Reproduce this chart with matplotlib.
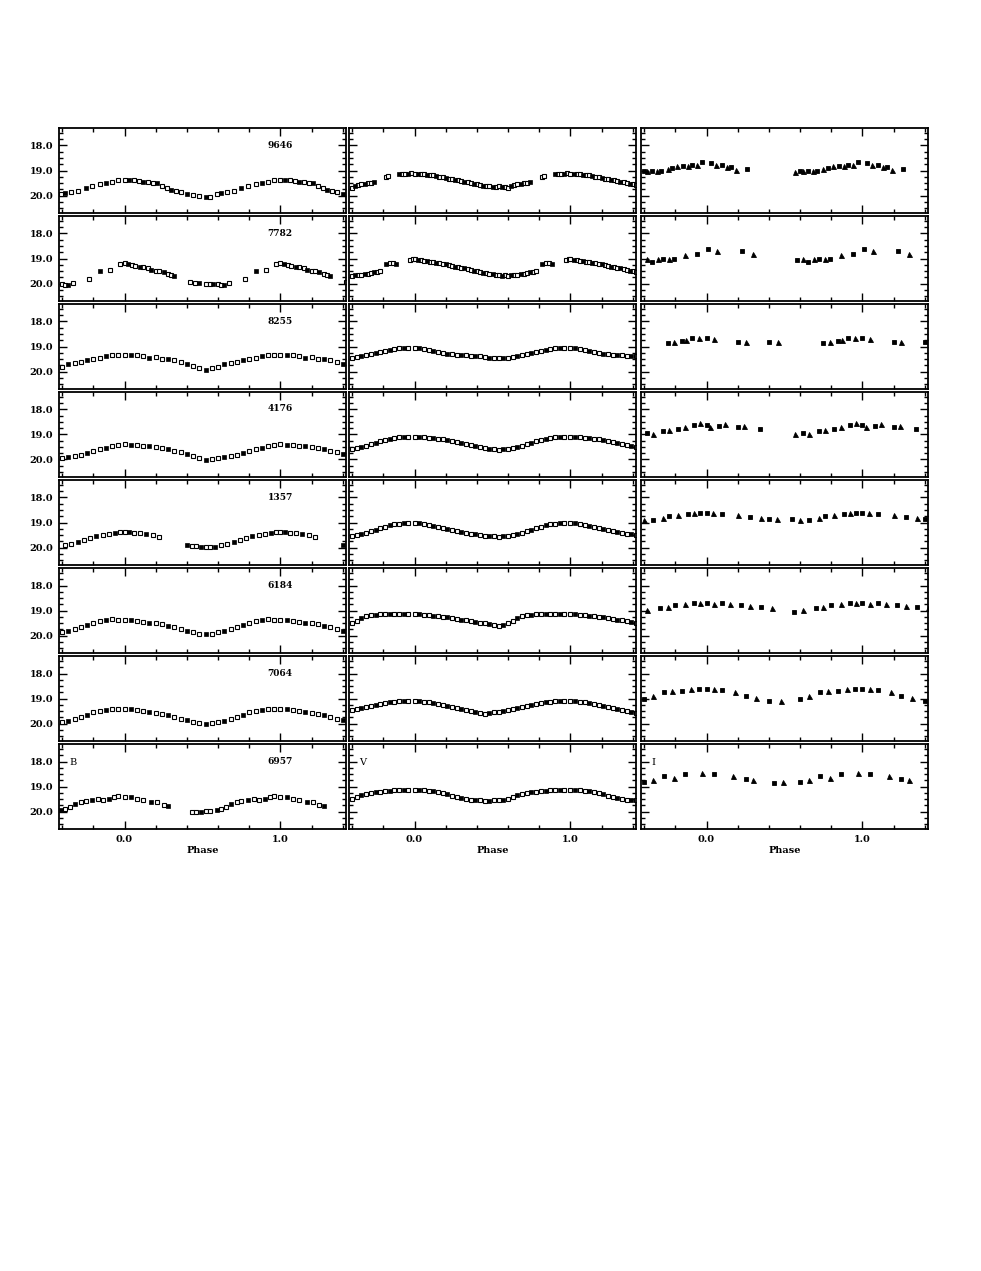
import numpy as np
import matplotlib
matplotlib.use('Agg')
import matplotlib.pyplot as plt
from matplotlib.ticker import MultipleLocator, FormatStrFormatter

# ---------------- data (phase in [0,1), magnitude) ----------------
stars = ['9646', '7782', '8255', '4176', '1357', '6184', '7064', '6957']

ph25 = [0.00, 0.04, 0.08, 0.12, 0.16, 0.20, 0.24, 0.28, 0.32, 0.36, 0.40, 0.44, 0.48,
        0.52, 0.56, 0.60, 0.64, 0.68, 0.72, 0.76, 0.80, 0.84, 0.88, 0.92, 0.96]
ph33 = [0.00, 0.03, 0.06, 0.09, 0.12, 0.15, 0.18, 0.21, 0.24, 0.27, 0.30, 0.33, 0.36,
        0.39, 0.42, 0.45, 0.48, 0.51, 0.54, 0.57, 0.60, 0.63, 0.66, 0.69, 0.72, 0.75,
        0.78, 0.81, 0.84, 0.87, 0.90, 0.93, 0.96]

# 9646
b9646_ph = [0.00, 0.03, 0.06, 0.09, 0.12, 0.15, 0.18, 0.21, 0.24, 0.27, 0.30, 0.33, 0.36, 0.40,
            0.44, 0.48, 0.52, 0.55, 0.59, 0.62, 0.66, 0.70, 0.75, 0.79, 0.84, 0.88, 0.92, 0.96]
b9646_mag = [19.37, 19.38, 19.40, 19.42, 19.45, 19.47, 19.50, 19.52, 19.62, 19.68, 19.76, 19.80, 19.86, 19.92,
             19.96, 20.02, 20.07, 20.05, 19.94, 19.90, 19.88, 19.80, 19.70, 19.60, 19.55, 19.48, 19.45, 19.38]
v9646_ph = [0.00, 0.02, 0.04, 0.06, 0.08, 0.10, 0.12, 0.14, 0.16, 0.18, 0.20, 0.22, 0.24, 0.26, 0.28,
            0.30, 0.32, 0.34, 0.36, 0.38, 0.40, 0.42, 0.44, 0.46, 0.48, 0.50, 0.52, 0.54, 0.56, 0.58,
            0.60, 0.62, 0.64, 0.66, 0.68, 0.70, 0.72, 0.74, 0.82, 0.83, 0.90, 0.92, 0.94, 0.96, 0.98]
v9646_mag = [19.12, 19.13, 19.14, 19.15, 19.17, 19.19, 19.20, 19.22, 19.25, 19.27, 19.30, 19.32, 19.34, 19.37, 19.40,
             19.42, 19.45, 19.47, 19.50, 19.53, 19.56, 19.58, 19.60, 19.61, 19.63, 19.64, 19.64, 19.63, 19.65, 19.66,
             19.68, 19.62, 19.58, 19.54, 19.56, 19.50, 19.48, 19.46, 19.26, 19.24, 19.14, 19.13, 19.12, 19.12, 19.11]
i9646_ph = [0.03, 0.06, 0.10, 0.13, 0.16, 0.19, 0.26, 0.57, 0.60, 0.62, 0.65, 0.68, 0.71, 0.75,
            0.78, 0.81, 0.85, 0.88, 0.91, 0.94, 0.97]
i9646_mag = [18.72, 18.76, 18.78, 18.88, 18.86, 18.96, 18.92, 19.08, 19.04, 19.02, 19.00, 19.02, 19.04, 18.92,
             18.90, 18.84, 18.82, 18.80, 18.78, 18.76, 18.68]

# 7782
b7782_ph = [0.00, 0.02, 0.05, 0.07, 0.10, 0.12, 0.15, 0.17, 0.20, 0.22, 0.25, 0.28, 0.30, 0.32,
            0.42, 0.45, 0.48, 0.52, 0.55, 0.57, 0.60, 0.62, 0.64, 0.67, 0.77, 0.84, 0.91, 0.97]
b7782_mag = [19.20, 19.24, 19.26, 19.30, 19.32, 19.36, 19.40, 19.44, 19.48, 19.52, 19.56, 19.60, 19.64, 19.70,
             19.92, 19.96, 19.98, 20.00, 20.02, 20.04, 20.00, 20.08, 20.06, 19.96, 19.80, 19.48, 19.44, 19.22]
v7782_ph = [0.00, 0.02, 0.04, 0.06, 0.08, 0.10, 0.12, 0.14, 0.16, 0.18, 0.20, 0.22, 0.24, 0.26, 0.28,
            0.30, 0.32, 0.34, 0.36, 0.38, 0.40, 0.42, 0.44, 0.46, 0.48, 0.50, 0.52, 0.54, 0.56, 0.58,
            0.60, 0.62, 0.64, 0.66, 0.68, 0.70, 0.72, 0.74, 0.76, 0.78, 0.82, 0.84, 0.86, 0.88, 0.97, 0.99]
v7782_mag = [19.04, 19.05, 19.07, 19.09, 19.11, 19.13, 19.15, 19.17, 19.20, 19.22, 19.24, 19.27, 19.30, 19.32, 19.35,
             19.38, 19.40, 19.43, 19.46, 19.49, 19.52, 19.55, 19.57, 19.59, 19.62, 19.63, 19.64, 19.66, 19.68, 19.66,
             19.68, 19.66, 19.64, 19.66, 19.62, 19.60, 19.58, 19.55, 19.54, 19.48, 19.22, 19.18, 19.20, 19.22, 19.06, 19.04]
i7782_ph = [0.01, 0.07, 0.23, 0.30, 0.58, 0.62, 0.65, 0.69, 0.72, 0.76, 0.79, 0.86, 0.94]
i7782_mag = [18.60, 18.72, 18.72, 18.84, 19.08, 19.04, 19.12, 19.02, 19.04, 19.00, 19.00, 18.88, 18.80]

# 8255
b8255_ph = ph25
b8255_mag = [19.32, 19.33, 19.36, 19.40, 19.45, 19.42, 19.48, 19.52, 19.56, 19.60, 19.70, 19.76, 19.85,
             19.92, 19.86, 19.82, 19.72, 19.65, 19.60, 19.55, 19.50, 19.45, 19.40, 19.36, 19.33]
v8255_ph = ph33
v8255_mag = [19.05, 19.07, 19.10, 19.14, 19.18, 19.22, 19.25, 19.28, 19.30, 19.32, 19.34, 19.36, 19.37,
             19.38, 19.40, 19.42, 19.44, 19.45, 19.46, 19.45, 19.44, 19.42, 19.40, 19.36, 19.30, 19.25,
             19.22, 19.18, 19.14, 19.10, 19.08, 19.06, 19.05]
i8255_ph = [0.00, 0.05, 0.20, 0.25, 0.40, 0.46, 0.75, 0.79, 0.84, 0.87, 0.91, 0.95]
i8255_mag = [18.68, 18.72, 18.80, 18.80, 18.82, 18.82, 18.88, 18.82, 18.78, 18.74, 18.66, 18.64]

# 4176
b4176_ph = ph25
b4176_mag = [19.40, 19.42, 19.44, 19.46, 19.48, 19.52, 19.56, 19.60, 19.66, 19.72, 19.80, 19.86, 19.96,
             20.02, 20.00, 19.94, 19.90, 19.86, 19.82, 19.74, 19.68, 19.60, 19.55, 19.48, 19.44]
v4176_ph = ph33
v4176_mag = [19.10, 19.10, 19.12, 19.14, 19.16, 19.18, 19.20, 19.23, 19.26, 19.30, 19.34, 19.38, 19.42,
             19.46, 19.50, 19.54, 19.57, 19.60, 19.62, 19.60, 19.58, 19.54, 19.50, 19.46, 19.40, 19.34,
             19.28, 19.22, 19.18, 19.14, 19.12, 19.10, 19.10]
i4176_ph = [0.00, 0.02, 0.08, 0.12, 0.20, 0.24, 0.34, 0.57, 0.62, 0.66, 0.72, 0.76, 0.82, 0.86, 0.92, 0.96]
i4176_mag = [18.62, 18.70, 18.68, 18.58, 18.72, 18.66, 18.78, 19.00, 18.95, 18.98, 18.88, 18.82, 18.78, 18.72, 18.64, 18.56]

# 1357
b1357_ph = [0.00, 0.03, 0.06, 0.10, 0.14, 0.18, 0.22, 0.40, 0.43, 0.46, 0.49, 0.52, 0.55, 0.58,
            0.62, 0.66, 0.70, 0.74, 0.78, 0.82, 0.86, 0.90, 0.94, 0.97]
b1357_mag = [19.36, 19.38, 19.40, 19.42, 19.46, 19.50, 19.56, 19.88, 19.92, 19.94, 19.96, 19.98, 19.98, 19.96,
             19.90, 19.86, 19.78, 19.70, 19.62, 19.55, 19.50, 19.45, 19.42, 19.38]
v1357_ph = ph33
v1357_mag = [19.02, 19.03, 19.05, 19.08, 19.12, 19.16, 19.20, 19.24, 19.28, 19.32, 19.36, 19.40, 19.44,
             19.47, 19.50, 19.52, 19.54, 19.55, 19.56, 19.55, 19.52, 19.48, 19.44, 19.40, 19.34, 19.28,
             19.22, 19.16, 19.10, 19.06, 19.04, 19.02, 19.01]
i1357_ph = [0.00, 0.04, 0.10, 0.20, 0.28, 0.35, 0.40, 0.45, 0.55, 0.60, 0.66, 0.72, 0.76, 0.82, 0.88, 0.92, 0.96]
i1357_mag = [18.60, 18.62, 18.65, 18.70, 18.78, 18.82, 18.84, 18.86, 18.86, 18.90, 18.90, 18.80, 18.72, 18.70,
             18.66, 18.62, 18.60]

# 6184
b6184_ph = ph25
b6184_mag = [19.38, 19.36, 19.40, 19.45, 19.48, 19.50, 19.55, 19.60, 19.66, 19.72, 19.80, 19.86, 19.92,
             19.95, 19.92, 19.86, 19.80, 19.72, 19.65, 19.56, 19.48, 19.42, 19.38, 19.35, 19.36]
v6184_ph = ph33
v6184_mag = [19.15, 19.15, 19.16, 19.18, 19.20, 19.22, 19.24, 19.27, 19.30, 19.33, 19.36, 19.39, 19.42,
             19.45, 19.48, 19.50, 19.54, 19.58, 19.60, 19.58, 19.50, 19.40, 19.30, 19.22, 19.18, 19.16,
             19.15, 19.15, 19.14, 19.14, 19.15, 19.15, 19.15]
i6184_ph = [0.00, 0.05, 0.10, 0.15, 0.22, 0.28, 0.35, 0.42, 0.56, 0.62, 0.70, 0.75, 0.80, 0.86, 0.92, 0.96]
i6184_mag = [18.70, 18.72, 18.70, 18.74, 18.76, 18.80, 18.86, 18.90, 19.05, 18.98, 18.90, 18.85, 18.78, 18.72,
             18.70, 18.68]

# 7064
b7064_ph = ph25
b7064_mag = [19.40, 19.42, 19.44, 19.48, 19.52, 19.56, 19.60, 19.66, 19.72, 19.80, 19.86, 19.92, 19.98,
             20.00, 19.98, 19.94, 19.88, 19.80, 19.72, 19.64, 19.55, 19.48, 19.44, 19.42, 19.40]
v7064_ph = ph33
v7064_mag = [19.10, 19.11, 19.13, 19.15, 19.18, 19.21, 19.25, 19.29, 19.33, 19.37, 19.42, 19.46, 19.50,
             19.54, 19.57, 19.60, 19.58, 19.55, 19.52, 19.48, 19.45, 19.40, 19.36, 19.32, 19.28, 19.24,
             19.20, 19.17, 19.14, 19.12, 19.11, 19.10, 19.10]
i7064_ph = [0.00, 0.05, 0.10, 0.18, 0.25, 0.32, 0.40, 0.48, 0.60, 0.66, 0.73, 0.78, 0.84, 0.90, 0.95]
i7064_mag = [18.60, 18.62, 18.65, 18.75, 18.90, 18.98, 19.10, 19.08, 19.00, 18.90, 18.72, 18.70, 18.68,
             18.62, 18.60]

# 6957
b6957_ph = [0.00, 0.04, 0.08, 0.12, 0.17, 0.21, 0.25, 0.28, 0.43, 0.46, 0.49, 0.52, 0.55, 0.59,
            0.62, 0.65, 0.68, 0.72, 0.75, 0.79, 0.83, 0.86, 0.90, 0.93, 0.96]
b6957_mag = [19.40, 19.40, 19.48, 19.52, 19.60, 19.62, 19.72, 19.76, 20.00, 20.02, 20.00, 19.98, 19.96, 19.92,
             19.88, 19.80, 19.68, 19.62, 19.56, 19.54, 19.48, 19.52, 19.50, 19.42, 19.36]
v6957_ph = ph33
v6957_mag = [19.12, 19.13, 19.14, 19.16, 19.18, 19.20, 19.24, 19.30, 19.36, 19.40, 19.44, 19.48, 19.52,
             19.54, 19.55, 19.56, 19.56, 19.55, 19.54, 19.52, 19.48, 19.40, 19.32, 19.28, 19.24, 19.21,
             19.20, 19.18, 19.16, 19.14, 19.13, 19.12, 19.12]
i6957_ph = [0.05, 0.17, 0.25, 0.30, 0.43, 0.49, 0.60, 0.66, 0.73, 0.79, 0.86, 0.97]
i6957_mag = [18.48, 18.56, 18.68, 18.72, 18.84, 18.80, 18.80, 18.72, 18.56, 18.64, 18.48, 18.44]

data = {
    '9646': [(b9646_ph, b9646_mag), (v9646_ph, v9646_mag), (i9646_ph, i9646_mag)],
    '7782': [(b7782_ph, b7782_mag), (v7782_ph, v7782_mag), (i7782_ph, i7782_mag)],
    '8255': [(b8255_ph, b8255_mag), (v8255_ph, v8255_mag), (i8255_ph, i8255_mag)],
    '4176': [(b4176_ph, b4176_mag), (v4176_ph, v4176_mag), (i4176_ph, i4176_mag)],
    '1357': [(b1357_ph, b1357_mag), (v1357_ph, v1357_mag), (i1357_ph, i1357_mag)],
    '6184': [(b6184_ph, b6184_mag), (v6184_ph, v6184_mag), (i6184_ph, i6184_mag)],
    '7064': [(b7064_ph, b7064_mag), (v7064_ph, v7064_mag), (i7064_ph, i7064_mag)],
    '6957': [(b6957_ph, b6957_mag), (v6957_ph, v6957_mag), (i6957_ph, i6957_mag)],
}
bands = ['B', 'V', 'I']

# ---------------- figure ----------------
W, H = 981, 1271
fig = plt.figure(figsize=(W / 100, H / 100), dpi=100)
plt.rcParams['font.family'] = ['DejaVu Serif']

lefts = [59, 349, 641]
aw, ah = 287, 85
tops = [128 + 88.0 * r for r in range(8)]
XMIN, XMAX = -0.42, 1.42


def folded(ax, ph, mag, band):
    ph = np.asarray(ph)
    mag = np.asarray(mag)
    for shift in (-1, 0, 1):
        x = ph + shift
        m = (x >= XMIN) & (x <= XMAX)
        idx = np.arange(len(x))
        if band == 'I':
            sel = m & (idx % 2 == 0)
            ax.plot(x[sel], mag[sel], 's', ms=3.4, color='k', mew=0.6)
            sel = m & (idx % 2 == 1)
            ax.plot(x[sel], mag[sel], '^', ms=3.6, color='k', mew=0.6)
        else:
            sel = m & (idx % 3 != 1)
            ax.plot(x[sel], mag[sel], 's', ms=3.4, mfc='white', mec='k', mew=0.8)
            sel = m & (idx % 3 == 1)
            ax.plot(x[sel], mag[sel], 's', ms=2.8, color='k', mew=0.5)


for r, star in enumerate(stars):
    for c in range(3):
        ax = fig.add_axes([lefts[c] / W, 1 - (tops[r] + ah) / H, aw / W, ah / H])
        ph, mag = data[star][c]
        folded(ax, ph, mag, bands[c])
        ax.set_xlim(XMIN, XMAX)
        ax.set_ylim(20.7, 17.3)
        ax.xaxis.set_major_locator(MultipleLocator(1.0))
        ax.xaxis.set_minor_locator(MultipleLocator(0.2))
        ax.yaxis.set_major_locator(MultipleLocator(1.0))
        ax.yaxis.set_minor_locator(MultipleLocator(0.25))
        ax.xaxis.set_major_formatter(FormatStrFormatter('%.1f'))
        ax.yaxis.set_major_formatter(FormatStrFormatter('%.1f'))
        ax.tick_params(which='both', direction='in', top=True, right=True, width=1.0,
                       labelsize=7, pad=4)
        ax.tick_params(which='major', length=6)
        ax.tick_params(which='minor', length=3)
        for lab in ax.get_xticklabels() + ax.get_yticklabels():
            lab.set_fontweight('bold')
        for sp in ax.spines.values():
            sp.set_linewidth(1.3)
        if c != 0:
            ax.tick_params(labelleft=False)
        if r != 7:
            ax.tick_params(labelbottom=False)
        else:
            ax.set_xlabel('Phase', fontsize=7, labelpad=2, fontweight='bold')
            ax.text(0.035, 0.78, bands[c], transform=ax.transAxes, fontsize=7,
                    ha='left', va='center')
        if c == 0:
            ax.text(0.77, 0.80, star, transform=ax.transAxes, fontsize=6.5,
                    ha='center', va='center', fontweight='bold')

fig.savefig('out.png', dpi=100)
